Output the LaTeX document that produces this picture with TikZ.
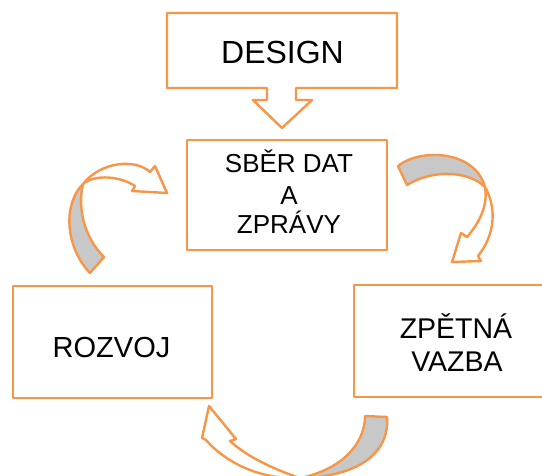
\documentclass[tikz,border=0pt]{standalone}
\usepackage{fontspec}
\setmainfont{Liberation Sans}
\definecolor{accent}{HTML}{F79646}
\definecolor{backface}{HTML}{C8C8C8}
\begin{document}
\begin{tikzpicture}[x=1pt,y=-1pt,
  outline/.style={draw=accent,line width=2.4pt,line join=round},
  frame/.style={outline,fill=white,inner sep=0pt},
  caption/.style={anchor=base,inner sep=0pt,font=\fontsize{#1pt}{#1pt}\selectfont},
  front/.style={outline,fill=white},
  back/.style={outline,fill=backface}]
\useasboundingbox (0,0) rectangle (542,475);
\clip (0,0) rectangle (542,475);

% callout box with the downward arrow
\draw[outline,fill=white] (167,13) -- (397,13) -- (397,88) -- (296,88) -- (296,100)
  -- (312,100) -- (282,128) -- (253,100) -- (267,100) -- (267,88) -- (167,88) -- cycle;
\node[caption=32] (design) at (282.5,63) {DESIGN};

% process boxes
\node[frame,minimum width=200pt,minimum height=110pt] (sber) at (287,195) {};
\node[frame,minimum width=199pt,minimum height=112pt] (rozvoj) at (112.5,342) {};
\node[frame,minimum width=204pt,minimum height=112pt] (zpetna) at (456,341) {};

\node[caption=26] (sber1) at (289,172.5) {SBĚR DAT};
\node[caption=26] (sber2) at (289,204.5) {A};
\node[caption=26] (sber3) at (289,233) {ZPRÁVY};
\node[caption=29] (rozvoj1) at (111.5,357) {ROZVOJ};
\node[caption=28.5] (zpetna1) at (456,338) {ZPĚTNÁ};
\node[caption=28.5] (zpetna2) at (457,371.5) {VAZBA};

% twisted arrow: data collection -> feedback
\draw[back] (398,166) .. controls (420,148) and (475,150) .. (485,187)
  .. controls (470,172) and (435,168) .. (407,185) -- cycle;
\draw[front] (485,187) .. controls (497,208) and (495,235) .. (478,256)
  -- (481,261) -- (452,262) -- (461,233) -- (467,237)
  .. controls (480,222) and (488,205) .. (485,187) -- cycle;

% twisted arrow: development -> data collection
\draw[back] (90,273) .. controls (66,248) and (62,205) .. (83,184)
  .. controls (78,205) and (82,235) .. (104,257) -- cycle;
\draw[front] (83,184) .. controls (100,162) and (135,158) .. (150,172)
  -- (155,166) -- (167,193) -- (132,191) -- (135,186)
  .. controls (120,176) and (95,174) .. (83,184) -- cycle;

% twisted arrow: feedback -> development
\draw[back] (365,416) -- (387,417) .. controls (390,455) and (355,477) .. (300,478)
  .. controls (340,470) and (365,445) .. (365,416) -- cycle;
\draw[front] (300,478) .. controls (260,480) and (225,462) .. (206,440)
  -- (202,438) -- (209,406) -- (236,439) -- (230,441)
  .. controls (245,455) and (270,468) .. (300,478) -- cycle;
\end{tikzpicture}
\end{document}
